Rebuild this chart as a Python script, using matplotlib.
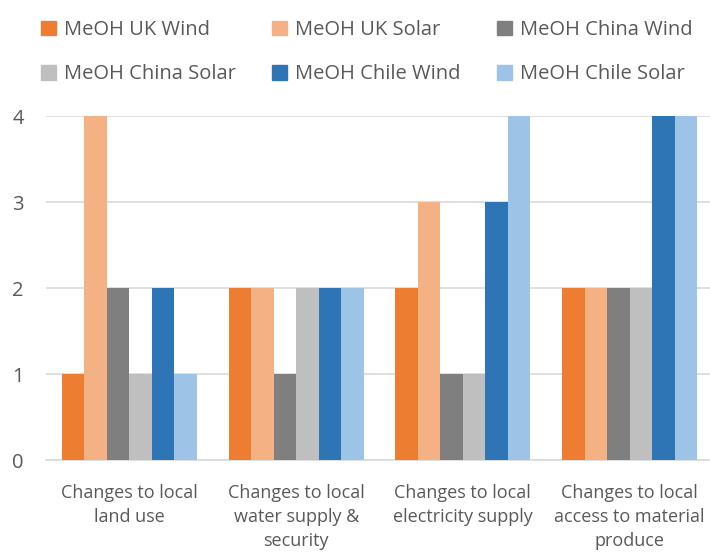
import matplotlib
matplotlib.use("Agg")
import matplotlib.pyplot as plt
import numpy as np
from matplotlib.patches import Patch

categories = ["Changes to local\nland use",
              "Changes to local\nwater supply &\nsecurity",
              "Changes to local\nelectricity supply",
              "Changes to local\naccess to material\nproduce"]
series_names = ["MeOH UK Wind", "MeOH UK Solar", "MeOH China Wind",
                "MeOH China Solar", "MeOH Chile Wind", "MeOH Chile Solar"]
uk_wind = [1, 2, 2, 2]
uk_solar = [4, 2, 3, 2]
china_wind = [2, 1, 1, 2]
china_solar = [1, 2, 1, 2]
chile_wind = [2, 2, 3, 4]
chile_solar = [1, 2, 4, 4]
series_values = [uk_wind, uk_solar, china_wind, china_solar, chile_wind, chile_solar]
colors = ["#ED7D31", "#F4B183", "#7F7F7F", "#BFBFBF", "#2E75B6", "#9DC3E6"]
yticks = [0, 1, 2, 3, 4]

plt.rcParams['font.family'] = ['Open Sans', 'DejaVu Sans']
text_color = "#595959"

fig = plt.figure(figsize=(7.10, 5.53), dpi=100)
ax = fig.add_axes([46/710, 93/553, 667/710, 344/553])

x = np.arange(len(categories))
w = 0.135
n = len(series_values)
for i, (vals, c) in enumerate(zip(series_values, colors)):
    ax.bar(x + (i - (n - 1) / 2) * w, vals, width=w, color=c, zorder=3, label=series_names[i])

ax.set_xlim(-0.5, len(categories) - 0.5)
ax.set_ylim(0, 4)
ax.set_yticks(yticks)
ax.set_xticks(x)
ax.set_xticklabels(categories, linespacing=1.45)
ax.tick_params(axis='x', length=0, labelsize=13, colors=text_color, pad=17)
ax.tick_params(axis='y', length=0, labelsize=14.5, colors=text_color, pad=16)
ax.yaxis.grid(True, color="#D9D9D9", linewidth=1.2, zorder=0)
for s in ["top", "right", "left"]:
    ax.spines[s].set_visible(False)
ax.spines["bottom"].set_color("#D9D9D9")
ax.spines["bottom"].set_linewidth(1.2)

handles = [Patch(color=c) for c in colors]
order = [0, 3, 1, 4, 2, 5]
leg = fig.legend([handles[i] for i in order], [series_names[i] for i in order],
                 ncol=3, loc="upper left", bbox_to_anchor=(41/710, 1 - 20/553),
                 frameon=False, fontsize=14.5, handlelength=0.75, handleheight=0.75,
                 handletextpad=0.4, columnspacing=1.8, labelspacing=1.2,
                 borderaxespad=0, borderpad=0)
for t in leg.get_texts():
    t.set_color(text_color)

fig.savefig("out.png", dpi=100)
